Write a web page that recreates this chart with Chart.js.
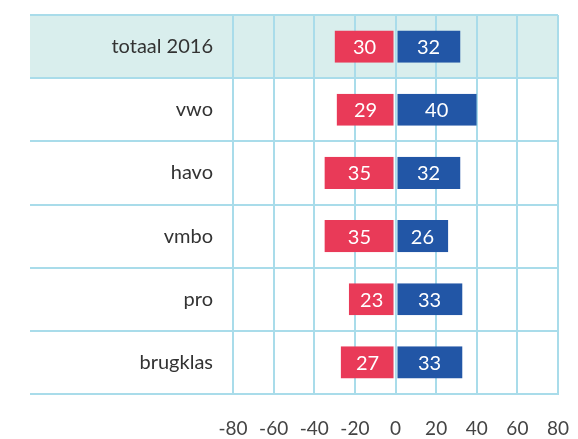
<!DOCTYPE html>
<html>
<head>
<meta charset="utf-8">
<script src="https://cdn.jsdelivr.net/npm/chart.js@4.4.1/dist/chart.umd.min.js"></script>
<style>
  html, body { margin: 0; padding: 0; background: #fff; }
  #wrap { width: 578px; height: 439px; }
</style>
</head>
<body>
<div id="wrap"><canvas id="myChart"></canvas></div>
<script>
const labels = ['totaal 2016', 'vwo', 'havo', 'vmbo', 'pro', 'brugklas'];
const leftValues = [30, 29, 35, 35, 23, 27];
const rightValues = [32, 40, 32, 26, 33, 33];
const axisTicks = [-80, -60, -40, -20, 0, 20, 40, 60, 80];

const gridColor = '#a9dcea';
const rowLine = 203;

// light band behind the first row
const bandPlugin = {
    id: 'band',
    beforeDraw(chart) {
        const y = chart.scales.y;
        const ctx = chart.ctx;
        const half = (y.getPixelForValue(1) - y.getPixelForValue(0)) / 2;
        const top = y.getPixelForValue(0) - half;
        ctx.save();
        ctx.fillStyle = '#d9eeed';
        ctx.fillRect(chart.chartArea.left - rowLine, top, chart.chartArea.right - chart.chartArea.left + rowLine, half * 2);
        ctx.restore();
    }
};

// numbers inside the bars
const valuePlugin = {
    id: 'values',
    afterDatasetsDraw(chart) {
        const ctx = chart.ctx;
        ctx.save();
        ctx.fillStyle = '#ffffff';
        ctx.font = '20px Lato';
        ctx.textAlign = 'center';
        ctx.textBaseline = 'middle';
        chart.data.datasets.forEach((ds, i) => {
            chart.getDatasetMeta(i).data.forEach((bar, j) => {
                const x = (bar.x + bar.base) / 2;
                ctx.fillText(String(Math.abs(ds.data[j])), x, bar.y + 1);
            });
        });
        ctx.restore();
    }
};

const data = {
    labels: labels,
    datasets: [
        {
            label: 'links',
            data: leftValues.map(v => -v),
            backgroundColor: '#e93a58',
            borderColor: '#d9eef2',
            borderWidth: { right: 1, left: 0, top: 0, bottom: 0 },
            borderSkipped: false,
            barPercentage: 0.51,
            categoryPercentage: 1,
        },
        {
            label: 'rechts',
            data: rightValues,
            backgroundColor: '#2256a6',
            borderColor: '#d9eef2',
            borderWidth: { left: 1, right: 0, top: 0, bottom: 0 },
            borderSkipped: false,
            barPercentage: 0.51,
            categoryPercentage: 1,
        }
    ]
};

const config = {
    type: 'bar',
    data: data,
    plugins: [bandPlugin, valuePlugin],
    options: {
        indexAxis: 'y',
        responsive: true,
        maintainAspectRatio: false,
        animation: false,
        layout: { padding: { top: 15, right: 20, left: 0, bottom: 0 } },
        plugins: {
            legend: { display: false },
            tooltip: { enabled: false }
        },
        scales: {
            x: {
                min: -80,
                max: 80,
                afterBuildTicks(scale) {
                    scale.ticks = axisTicks.map(v => ({ value: v }));
                },
                grid: { color: gridColor, lineWidth: 2, tickLength: 23, tickColor: 'rgba(0,0,0,0)' },
                border: { color: gridColor, width: 2 },
                ticks: {
                    color: '#444',
                    font: { family: 'Lato', size: 19 },
                    padding: 0,
                    maxRotation: 0
                },
                afterFit(scale) {
                    scale.height = 45;
                }
            },
            y: {
                stacked: true,
                grid: { color: gridColor, lineWidth: 2, tickLength: rowLine, tickColor: gridColor },
                border: { color: gridColor, width: 2 },
                ticks: {
                    color: '#333',
                    font: { family: 'Lato', size: 20 },
                    padding: 20 - rowLine
                },
                afterFit(scale) {
                    scale.width = 233;
                }
            }
        }
    }
};

const myChart = new Chart(document.getElementById('myChart'), config);
</script>
</body>
</html>
